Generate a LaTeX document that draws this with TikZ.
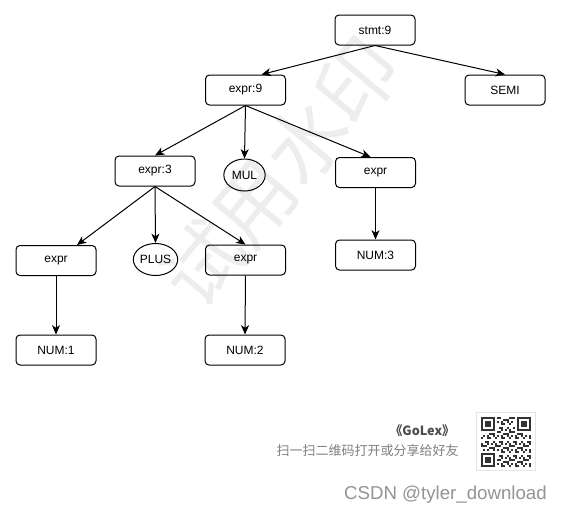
\documentclass[tikz,border=0pt]{standalone}
\usepackage{fontspec}
\setmainfont{Liberation Sans}
\newfontfamily\cjk{Noto Sans CJK SC}
\usetikzlibrary{arrows.meta,shapes.geometric,calc}

\begin{document}
\begin{tikzpicture}[x=0.75pt,y=-0.75pt,
  box/.style={draw, rounded corners=3pt, minimum width=60pt, minimum height=22.5pt, inner sep=0pt, font=\fontsize{9}{11}\selectfont, line width=0.75pt},
  oval/.style={draw, ellipse, minimum width=31pt, minimum height=24pt, inner sep=0pt, font=\fontsize{9}{11}\selectfont, line width=0.75pt},
  arr/.style={-{Stealth[length=7pt,width=6pt,inset=2pt]}, line width=0.75pt},
  qrdark/.style={fill=black!80}]
\useasboundingbox (0,0) rectangle (561,515);
\fill[white] (0,0) rectangle (561,515);

% watermark
\node[rotate=50, text=black!7, font=\cjk\fontsize{60}{60}\selectfont] (wm) at (280,172) {试用水印};

% nodes
\node[box] (stmt) at (375,30) {stmt:9};
\node[box] (e9) at (245.5,90) {expr:9};
\node[box] (semi) at (505,90) {SEMI};
\node[box] (e3) at (155,171) {expr:3};
\node[oval] (mul) at (244.5,175) {MUL};
\node[box] (er) at (375.5,172.5) {expr};
\node[box] (el) at (56,260.5) {expr};
\node[oval] (plus) at (155.5,259.5) {PLUS};
\node[box] (em) at (245.5,260) {expr};
\node[box] (n1) at (56,350) {NUM:1};
\node[box] (n2) at (245,350) {NUM:2};
\node[box] (n3) at (375.5,255) {NUM:3};

% connectors
\draw[arr] (stmt.south) -- ([xshift=12pt]e9.north);
\draw[arr] (stmt.south) -- (semi.north);
\draw[arr] (e9.south) -- (e3.north);
\draw[arr] (e9.south) -- (mul.north);
\draw[arr] (e9.south) -- ([xshift=-3.75pt]er.north);
\draw[arr] (e3.south) -- ([xshift=15.75pt]el.north);
\draw[arr] (e3.south) -- (plus.north);
\draw[arr] (e3.south) -- (em.north);
\draw[arr] (el.south) -- (n1.north);
\draw[arr] (em.south) -- (n2.north);
\draw[arr] (er.south) -- (n3.north);

% footer
\node[anchor=east, inner sep=0pt, font=\cjk\bfseries\fontsize{9.5}{11}\selectfont, text=black!70] (golex) at (455,431) {《GoLex》};
\node[anchor=east, inner sep=0pt, font=\cjk\fontsize{9.75}{11}\selectfont, text=black!50] (scan) at (459,451) {扫一扫二维码打开或分享给好友};

% QR code
\draw[black!10, fill=white] (476,412) rectangle (535,470);
\foreach \i in {0,...,24}{\foreach \j in {0,...,24}{
  \pgfmathtruncatemacro{\inf}{((\i<8)&&(\j<8)) || ((\i>16)&&(\j<8)) || ((\i<8)&&(\j>16))}
  \pgfmathtruncatemacro{\on}{mod(\i*\i*7+\j*\j*3+\i*\j*5+\i+3*\j,7)<3}
  \ifnum\inf=0 \ifnum\on=1 \fill[qrdark] (480.5+2*\i,416.5+2*\j) rectangle ++(2,2); \fi\fi
}}
\foreach \fx/\fy in {0/0,18/0,0/18}{
  \fill[qrdark] (480.5+2*\fx,416.5+2*\fy) rectangle ++(14,14);
  \fill[white] (482.5+2*\fx,418.5+2*\fy) rectangle ++(10,10);
  \fill[qrdark] (484.5+2*\fx,420.5+2*\fy) rectangle ++(6,6);
}

\node[anchor=east, inner sep=0pt, font=\fontsize{14}{16}\selectfont, text=black!42] (csdn) at (547,495) {CSDN @tyler\_download};
\end{tikzpicture}
\end{document}
